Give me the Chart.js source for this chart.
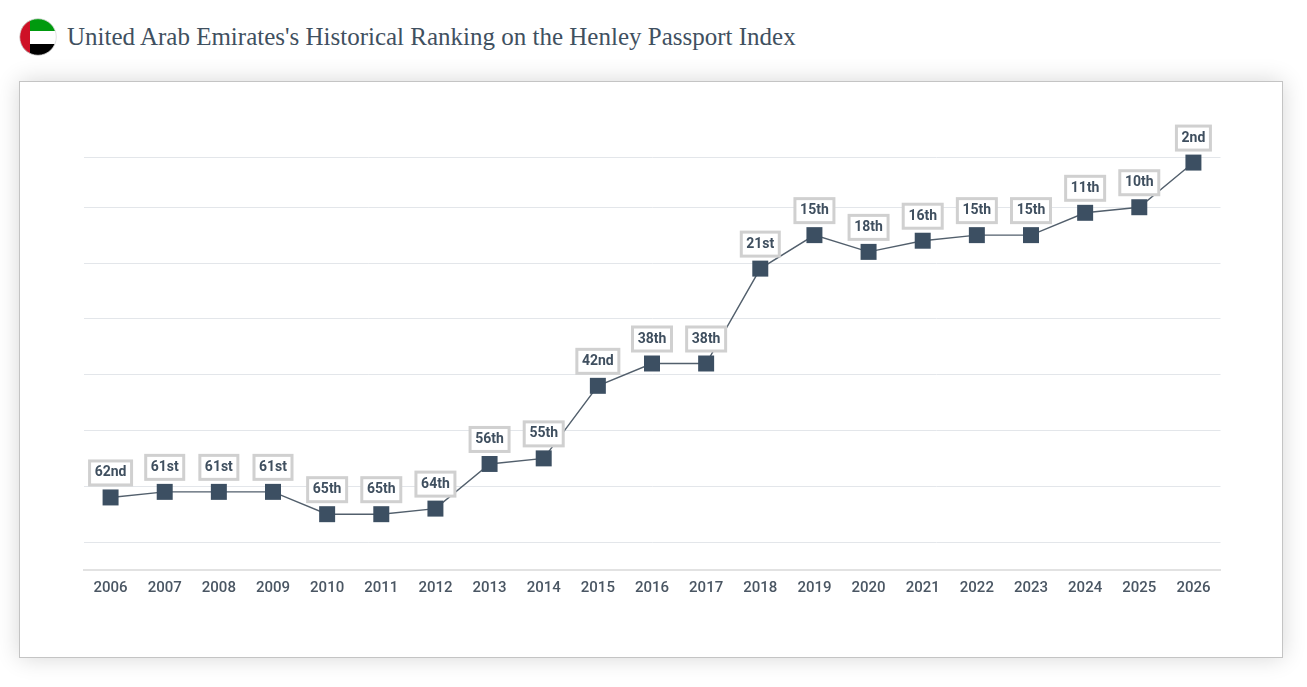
<!DOCTYPE html>
<html>
<head>
<meta charset="utf-8">
<title>Henley Passport Index</title>
<script src="https://cdn.jsdelivr.net/npm/chart.js@4"></script>
<style>
html,body{margin:0;padding:0;background:#fff;overflow:hidden;}
body{width:1307px;height:687px;position:relative;}
#flag{position:absolute;left:19px;top:18px;width:38px;height:38px;}
h1{position:absolute;left:67px;top:22px;margin:0;font:400 25px/30px "Liberation Serif",serif;color:#3f5060;white-space:nowrap;}
#card{position:absolute;left:19px;top:81px;width:1262px;height:575px;background:#fff;border:1px solid #c4c4c4;box-shadow:0 0 22px rgba(0,0,0,.16);}
#card canvas{position:absolute;left:0;top:0;}
</style>
</head>
<body>
<svg id="flag" viewBox="0 0 38 38">
  <defs><clipPath id="c"><circle cx="19" cy="19" r="18.3"/></clipPath></defs>
  <g clip-path="url(#c)">
    <rect x="0" y="0" width="38" height="13" fill="#009a0e"/>
    <rect x="0" y="13" width="38" height="13" fill="#fff"/>
    <rect x="0" y="26" width="38" height="12" fill="#000"/>
    <rect x="0" y="0" width="11" height="38" fill="#ce1126"/>
  </g>
  <circle cx="19" cy="19" r="18.3" fill="none" stroke="#d8d8d8" stroke-width="0.8"/>
</svg>
<h1>United Arab Emirates's Historical Ranking on the Henley Passport Index</h1>
<div id="card"><canvas id="chart" width="1262" height="575"></canvas></div>
<script>
const years = ['2006','2007','2008','2009','2010','2011','2012','2013','2014','2015','2016','2017','2018','2019','2020','2021','2022','2023','2024','2025','2026'];
const ranks = [62,61,61,61,65,65,64,56,55,42,38,38,21,15,18,16,15,15,11,10,2];
const rankLabels = ['62nd','61st','61st','61st','65th','65th','64th','56th','55th','42nd','38th','38th','21st','15th','18th','16th','15th','15th','11th','10th','2nd'];
const gridRanks = [1,10,20,30,40,50,60,70];

// Recuadros con el puesto encima de cada punto
const rankBoxes = {
  id:'rankBoxes',
  afterDatasetsDraw(chart){
    const ctx = chart.ctx, pts = chart.getDatasetMeta(0).data;
    ctx.save();
    ctx.font = '700 14px Roboto';
    ctx.textAlign = 'center';
    ctx.textBaseline = 'middle';
    pts.forEach((p,i)=>{
      const t = rankLabels[i];
      const w = Math.round(ctx.measureText(t).width) + 10, h = 24;
      const x = p.x - w/2, y = p.y - 12.5 - h;
      ctx.fillStyle = '#fff';
      ctx.strokeStyle = '#d0d0d0';
      ctx.lineWidth = 3;
      ctx.fillRect(x,y,w,h);
      ctx.strokeRect(x,y,w,h);
      ctx.fillStyle = '#3f4f5f';
      ctx.fillText(t, p.x, y + h/2);
    });
    ctx.restore();
  }
};

new Chart(document.getElementById('chart').getContext('2d'), {
  type:'line',
  data:{ labels:years, datasets:[{
    data:ranks,
    borderColor:'#525f6c', borderWidth:1.4, tension:0,
    pointStyle:'rect', pointRadius:11.3, pointHoverRadius:11.3,
    pointBackgroundColor:'#3c4f62', pointBorderColor:'#3c4f62', pointBorderWidth:0,
    clip:false
  }]},
  options:{
    responsive:false, animation:false,
    layout:{ padding:{ left:63.5, right:61.5, top:75, bottom:57 } },
    plugins:{ legend:{display:false}, tooltip:{enabled:false} },
    scales:{
      x:{
        offset:true,
        afterFit:s=>{ s.height = 30; },
        grid:{ display:false },
        border:{ display:true, color:'#e2e2e2', width:2 },
        ticks:{ color:'#4a5663', font:{ family:'Roboto', size:15, weight:'500' }, padding:1, maxRotation:0, autoSkip:false }
      },
      y:{
        reverse:true, min:1, max:75,
        afterFit:s=>{ s.width = 0; },
        afterBuildTicks:s=>{ s.ticks = gridRanks.map(v=>({value:v})); },
        grid:{ color:'#e3e6ea', lineWidth:1, drawTicks:false },
        border:{ display:false },
        ticks:{ display:false }
      }
    }
  },
  plugins:[rankBoxes]
});
</script>
</body>
</html>
